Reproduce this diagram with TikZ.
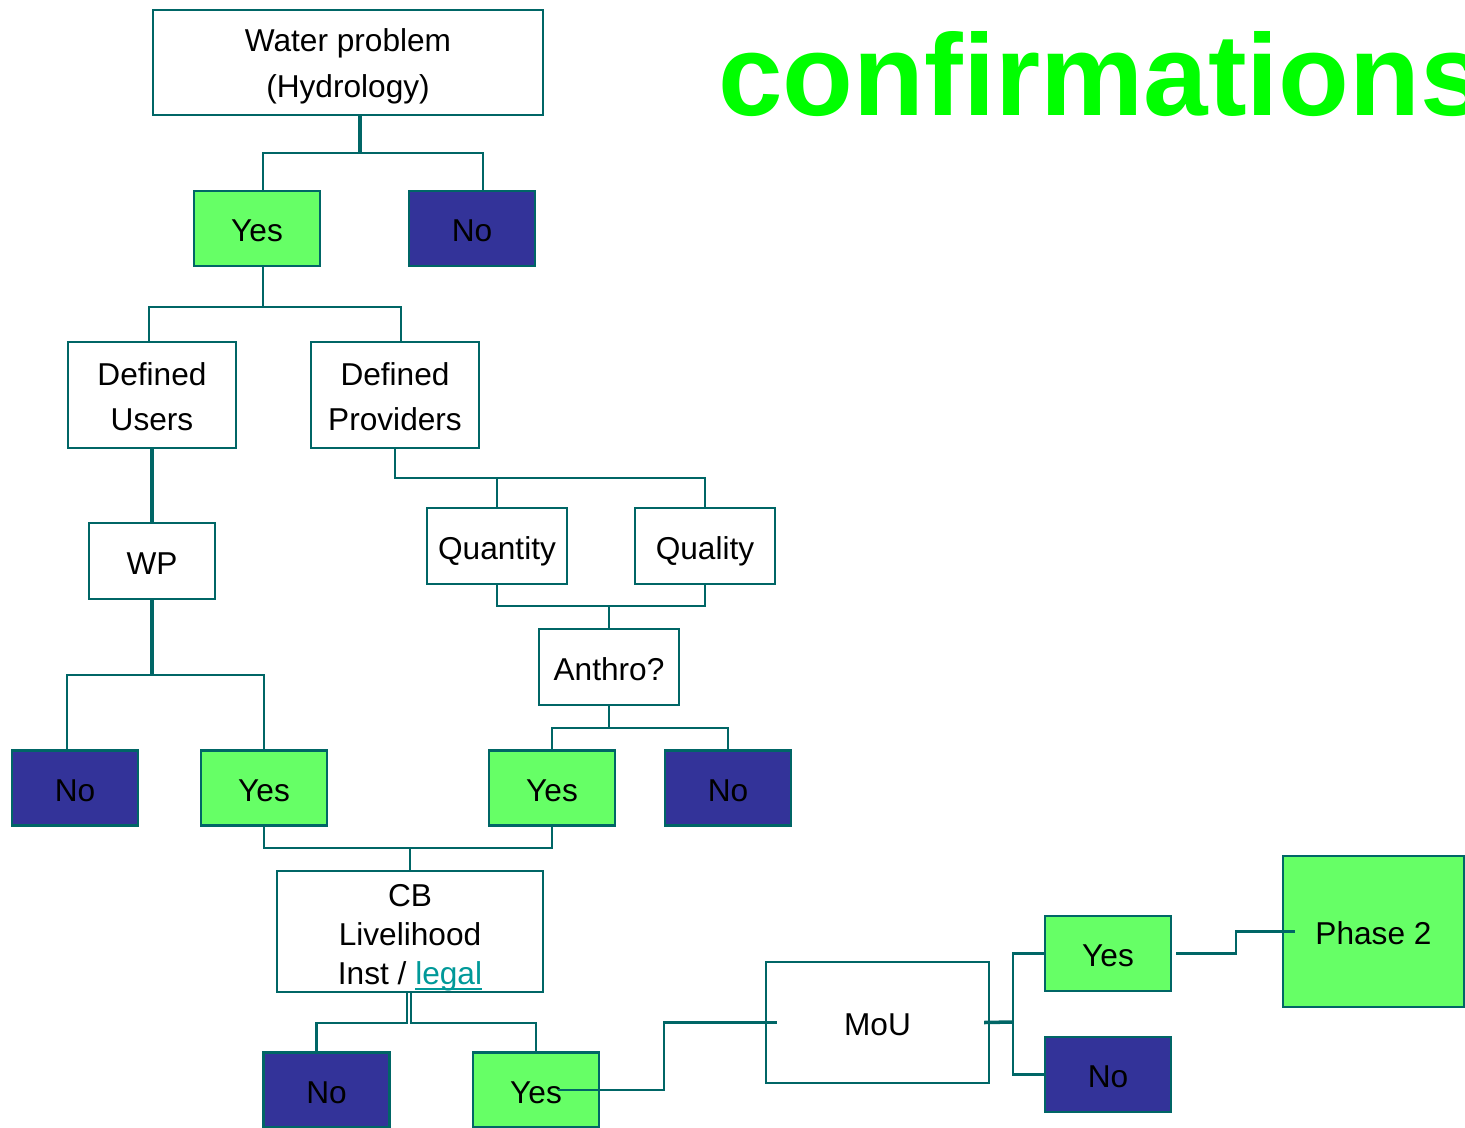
\documentclass[tikz,border=0pt]{standalone}
\usepackage{fontspec}
\setmainfont{Liberation Sans}
\usepackage{xcolor}
\usetikzlibrary{positioning,calc}

\definecolor{edgeteal}{HTML}{006666}
\definecolor{yesgreen}{HTML}{66FF66}
\definecolor{noblue}{HTML}{333399}
\definecolor{linkteal}{HTML}{009999}
\definecolor{titlegreen}{HTML}{00FF00}

% strut on the first line of a multi-line box, pushes the text down a bit
\newcommand{\topgap}[1]{\rule{0pt}{#1}}
% underlined link text
\newcommand{\linkword}[1]{\textcolor{linkteal}{\setbox0\hbox{#1}\rlap{\rule[-3.2pt]{\wd0}{1.1pt}}\box0}}

\tikzset{
  qbox/.style={rectangle, draw=edgeteal, line width=1.2pt, fill=white, align=center,
    inner sep=0pt, font=\fontsize{18}{26}\selectfont},
  onebox/.style={qbox, text height=15pt, text depth=0pt},
  yesbox/.style={onebox, fill=yesgreen, minimum width=2.52cm, minimum height=1.5cm},
  nobox/.style={onebox, fill=noblue, minimum width=2.52cm, minimum height=1.5cm},
  link/.style={draw=edgeteal, line width=1.2pt},
  stem/.style={draw=edgeteal, line width=2pt},
}

\begin{document}
\begin{tikzpicture}[x=0.02cm, y=-0.02cm]
    \useasboundingbox (0,0) rectangle (1465,1127);
    \clip (0,0) rectangle (1465,1127);

    % Title
    \node[anchor=base west, inner sep=0pt, text=titlegreen,
      font=\fontsize{66}{66}\selectfont\bfseries] (title) at (718,115) {confirmations};

    % Top question
    \node[qbox, minimum width=7.8cm, minimum height=2.1cm] (water) at (348,62.5) {\topgap{17pt}Water problem\\(Hydrology)};
    \node[yesbox] (yes1) at (257,228.5) {Yes};
    \node[nobox] (no1) at (472,228.5) {No};

    % Users and providers
    \node[qbox, minimum width=3.36cm, minimum height=2.12cm] (users) at (152,395) {\topgap{15pt}Defined\\Users};
    \node[qbox, minimum width=3.36cm, minimum height=2.12cm] (providers) at (395,395) {\topgap{15pt}Defined\\Providers};
    \node[onebox, minimum width=2.52cm, minimum height=1.52cm] (wp) at (152,561) {WP};
    \node[onebox, minimum width=2.8cm, minimum height=1.52cm] (quantity) at (497,546) {Quantity};
    \node[onebox, minimum width=2.8cm, minimum height=1.52cm] (quality) at (705,546) {Quality};
    \node[onebox, minimum width=2.8cm, minimum height=1.52cm] (anthro) at (609,667) {Anthro?};

    % Answers
    \node[nobox] (no2) at (75,788) {No};
    \node[yesbox] (yes2) at (264,788) {Yes};
    \node[yesbox] (yes3) at (552,788) {Yes};
    \node[nobox] (no3) at (728,788) {No};

    % Capacity building
    \node[qbox, minimum width=5.32cm, minimum height=2.42cm, font=\fontsize{18}{22}\selectfont] (cb) at (410,931.5)
      {\topgap{19.5pt}CB\\Livelihood\\Inst / \linkword{legal}};
    \node[nobox] (no4) at (326.5,1090) {No};
    \node[yesbox] (yes4) at (536,1090) {Yes};

    % MoU and phase 2
    \node[onebox, minimum width=4.46cm, minimum height=2.42cm] (mou) at (877.5,1022.5) {MoU};
    \node[yesbox] (yes5) at (1108,953.5) {Yes};
    \node[nobox] (no5) at (1108,1074.5) {No};
    \node[yesbox, minimum width=3.62cm, minimum height=3.02cm] (phase2) at (1373.5,931.5) {Phase 2};

    % Connectors
    \coordinate (f1) at (360,153);
    \draw[stem] (water.south -| f1) -- (f1);
    \draw[link] ($(yes1.north)+(6,0)$) |- (f1) -| ($(no1.north)+(11,0)$);

    \coordinate (f2) at (263,307);
    \draw[link] (yes1.south -| f2) -- (f2);
    \draw[link] ($(users.north)+(-3,0)$) |- (f2) -| ($(providers.north)+(6,0)$);

    \draw[stem] (users) -- (wp);

    \coordinate (f3) at (395,478);
    \draw[link] (providers.south) -- (f3) -| (quality.north);
    \draw[link] (quantity.north) -- (quantity.north |- f3);

    \coordinate (f4) at (609,606);
    \draw[link] (quantity.south) |- (f4) -| (quality.south);
    \draw[link] (f4) -- (anthro.north);

    \coordinate (f5) at (152,675);
    \draw[stem] (wp.south) -- (f5);
    \draw[link] ($(no2.north)+(-8,0)$) |- (f5) -| (yes2.north);

    \coordinate (f6) at (609,728);
    \draw[link] (anthro.south) -- (f6);
    \draw[link] (yes3.north) |- (f6) -| (no3.north);

    \coordinate (f7) at (410,848);
    \draw[link] (yes2.south) |- (f7) -| (yes3.south);
    \draw[link] (f7) -- (cb.north);

    \draw[link] ($(cb.south)+(-3,0)$) -- ++(0,30) -| ($(no4.north)+(-10,0)$);
    \draw[link] ($(cb.south)+(1,0)$) -- ++(0,30) -| (yes4.north);

    \draw[link] ($(yes4.center)+(22,0)$) -- ++(106,0) |- ($(mou.west)+(12,0)$);

    \coordinate (f8) at (1013,1022);
    \draw[stem] ($(mou.east)+(-6,0)$) -- (f8);
    \draw[link] (yes5.west) -| (f8) |- (no5.west);

    \draw[link] ($(yes5.east)+(4,0)$) -- ++(60,0) |- ($(phase2.west)+(13,0)$);
\end{tikzpicture}
\end{document}
